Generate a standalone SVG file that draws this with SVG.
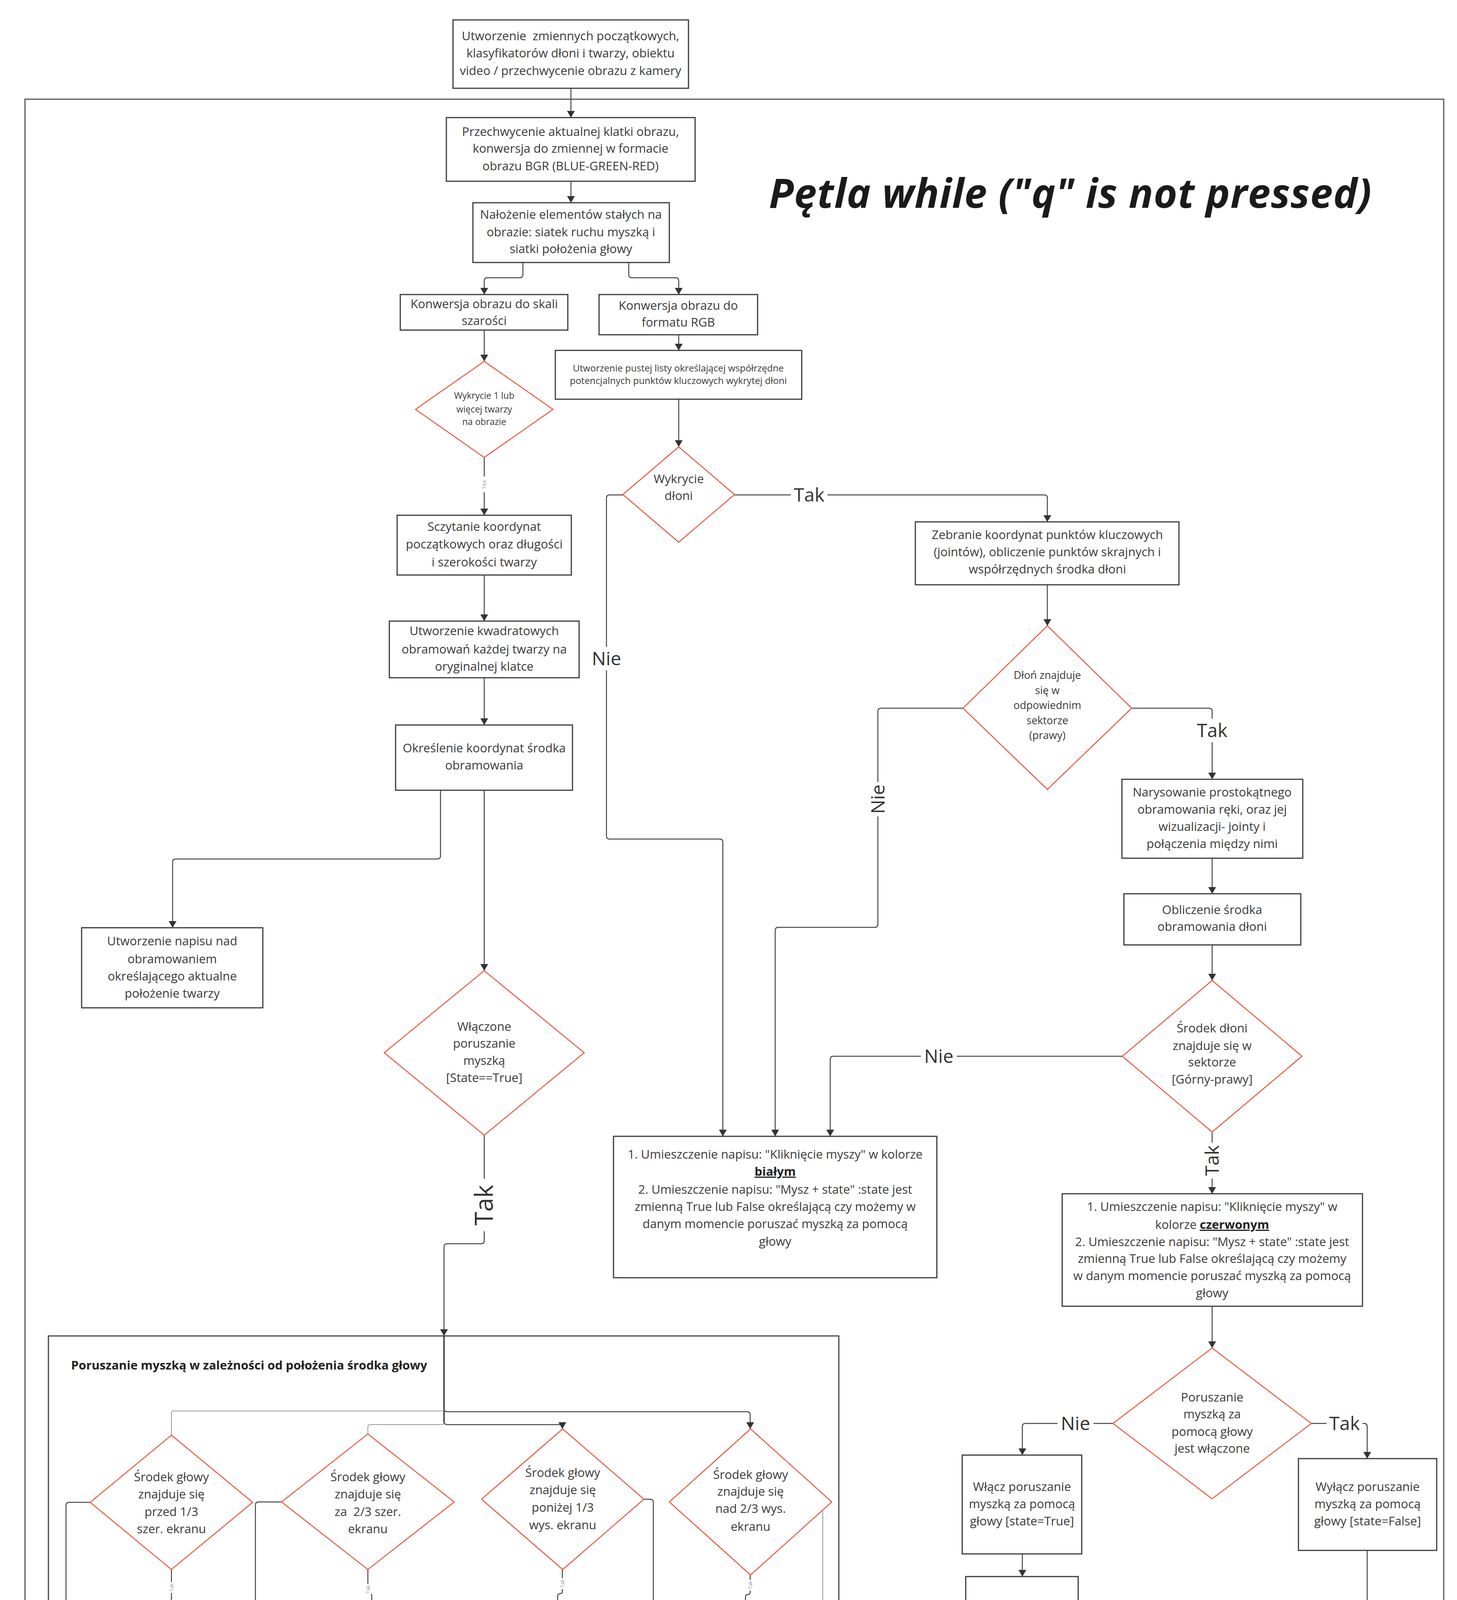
<svg xmlns="http://www.w3.org/2000/svg" width="3731" height="4646" viewBox="0 0 3731 4646">
<defs>
<marker id="ar" viewBox="0 0 17 20" refX="17" refY="10" markerWidth="17" markerHeight="20" markerUnits="userSpaceOnUse" orient="auto"><path d="M0,0 L17,10 L0,20 z" fill="#333"/></marker>
<style>
.box{fill:#fff;stroke:#3a3a3a;stroke-width:3}
.dia{fill:#fff;stroke:#e8553e;stroke-width:2.5}
.frame{fill:none;stroke:#555;stroke-width:3}
.t{font-family:"Open Sans","Noto Sans","DejaVu Sans",sans-serif;fill:#3a3a3a;text-anchor:middle;font-size:31px}
.s23{font-size:23px}
.s24{font-size:24px}
.s27{font-size:27px}
.big{font-size:48px}
.lbl{font-family:"Open Sans","Noto Sans","DejaVu Sans",sans-serif;fill:#333;text-anchor:middle;font-size:48px}
.tiny{font-family:"Open Sans","Noto Sans","DejaVu Sans",sans-serif;fill:#999;text-anchor:middle;font-size:13px}
.b{font-weight:bold;fill:#222;text-decoration:underline}
.c{fill:none;stroke:#444;stroke-width:2.5}
.ck{fill:none;stroke:#333;stroke-width:3.5}
.cg{fill:none;stroke:#9a9a9a;stroke-width:2}
.bg{fill:#fff}
</style>
</defs>
<rect width="3731" height="4646" fill="#fff"/>

<g id="loop-frame">
<rect class="frame" x="64" y="254" width="3633" height="4372"/>
<text x="1969" y="532" font-family="'Open Sans','Noto Sans','DejaVu Sans',sans-serif" font-size="104" font-weight="bold" font-style="italic" fill="#1a1a1a" textLength="1543">Pętla while ("q" is not pressed)</text>
</g>

<g id="subblock">
<rect class="frame" x="124" y="3420" width="2024" height="1112" style="stroke:#444"/>
<text x="182" y="3506" font-family="'Open Sans','Noto Sans','DejaVu Sans',sans-serif" font-size="31" font-weight="bold" fill="#222">Poruszanie myszką w zależności od położenia środka głowy</text>
</g>

<g id="connectors">
<path class="c" marker-end="url(#ar)" d="M1462 226 V301"/>
<path class="c" marker-end="url(#ar)" d="M1462 464 V519"/>
<path class="c" marker-end="url(#ar)" d="M1339 672 V703 Q1339 711 1331 711 H1248 Q1240 711 1240 719 V754"/>
<path class="c" marker-end="url(#ar)" d="M1610 672 V703 Q1610 711 1618 711 H1730 Q1738 711 1738 719 V754"/>
<path class="c" marker-end="url(#ar)" d="M1240 845 V925"/>
<path class="c" marker-end="url(#ar)" d="M1738 857 V897"/>
<path class="c" marker-end="url(#ar)" d="M1738 1022 V1144"/>
<path class="c" marker-end="url(#ar)" d="M1240 1171 V1319"/>
<path class="c" marker-end="url(#ar)" d="M1240 1472 V1590"/>
<path class="c" marker-end="url(#ar)" d="M1240 1735 V1856"/>
<path class="c" marker-end="url(#ar)" d="M1128 2023 V2191 Q1128 2199 1120 2199 H450 Q442 2199 442 2207 V2375"/>
<path class="c" marker-end="url(#ar)" d="M1240 2023 V2485"/>
<path class="c" marker-end="url(#ar)" d="M1240 2906 V3176 Q1240 3184 1232 3184 H1145 Q1137 3184 1137 3192 V3420"/>
<path class="c" marker-end="url(#ar)" d="M1881 1267 H2674 Q2682 1267 2682 1275 V1336"/>
<path class="c" marker-end="url(#ar)" d="M1595 1267 H1561 Q1553 1267 1553 1275 V2140 Q1553 2148 1561 2148 H1843 Q1851 2148 1851 2156 V2909"/>
<path class="c" marker-end="url(#ar)" d="M2682 1497 V1602"/>
<path class="c" marker-end="url(#ar)" d="M2466 1813 H2256 Q2248 1813 2248 1821 V2366 Q2248 2374 2240 2374 H1993 Q1985 2374 1985 2382 V2909"/>
<path class="c" marker-end="url(#ar)" d="M2898 1813 H3096 Q3104 1813 3104 1821 V1995"/>
<path class="c" marker-end="url(#ar)" d="M3104 2197 V2288"/>
<path class="c" marker-end="url(#ar)" d="M3104 2419 V2510"/>
<path class="c" marker-end="url(#ar)" d="M2874 2704 H2134 Q2126 2704 2126 2712 V2909"/>
<path class="c" marker-end="url(#ar)" d="M3104 2898 V3056"/>
<path class="c" marker-end="url(#ar)" d="M3104 3344 V3451"/>
<path class="c" marker-end="url(#ar)" d="M2850 3644 H2626 Q2618 3644 2618 3652 V3725"/>
<path class="c" marker-end="url(#ar)" d="M3358 3644 H3493 Q3501 3644 3501 3652 V3734"/>
<path class="c" marker-end="url(#ar)" d="M2618 3978 V4036"/>
<path class="c" marker-end="url(#ar)" d="M2618 4270 V4306 Q2618 4314 2626 4314 H2934 Q2942 4314 2942 4322 V4355"/>
<path class="c" marker-end="url(#ar)" d="M3501 3969 V4306 Q3501 4314 3493 4314 H3050 Q3042 4314 3042 4322 V4355"/>
<path class="ck" d="M1137 3420 V3641"/>
<path class="cg" d="M1137 3606 Q1137 3612 1131 3612 H445 Q439 3612 439 3618 V3674"/>
<path class="c" marker-end="url(#ar)" d="M1137 3606 Q1137 3614 1145 3614 H1913 Q1921 3614 1921 3622 V3658"/>
<path class="cg" d="M1137 3641 Q1137 3647 1131 3647 H948 Q942 3647 942 3653 V3671"/>
<path class="c" marker-end="url(#ar)" d="M1137 3639 Q1137 3647 1145 3647 H1432 Q1440 3647 1440 3655 V3658"/>
<path class="c" marker-end="url(#ar)" d="M439 4018 V4118"/>
<path class="c" marker-end="url(#ar)" d="M942 4018 V4074 Q942 4080 948 4080 H946 Q952 4080 952 4086 V4118"/>
<path class="c" marker-end="url(#ar)" d="M1440 4018 V4074 Q1440 4080 1434 4080 Q1428 4080 1428 4086 V4118"/>
<path class="c" marker-end="url(#ar)" d="M1921 4032 V4076 Q1921 4082 1915 4082 Q1909 4082 1909 4088 V4113"/>
<path class="c" d="M231 3846 H177 Q169 3846 169 3854 V4412 Q169 4420 177 4420 H1665 Q1673 4420 1673 4412 V3846 Q1673 3838 1665 3838 H1649"/>
<path class="c" d="M439 4349 V4412 Q439 4420 447 4420"/>
<path class="c" d="M721 3845 H662 Q654 3845 654 3853 V4412 Q654 4420 662 4420"/>
<path class="c" d="M952 4331 V4420"/>
<path class="c" d="M1428 4324 V4412 Q1428 4420 1420 4420"/>
<path class="c" d="M1909 4324 V4412 Q1909 4420 1901 4420 H1673"/>
<path class="cg" d="M2130 3845 H2099 Q2107 3845 2107 3853 V4412 Q2107 4420 2099 4420 H1909"/>
<path class="ck" marker-end="url(#ar)" d="M1137 4420 V4532"/>
</g>

<g id="connector-labels">
<rect class="bg" x="1228" y="1220" width="24" height="40"/>
<text class="tiny" transform="translate(1245 1240) rotate(-90)">TAK</text>
<rect class="bg" x="1205" y="3018" width="70" height="134"/>
<text class="lbl" style="font-size:64px" transform="translate(1262 3085) rotate(-90)">Tak</text>
<rect class="bg" x="2025" y="1240" width="94" height="54"/>
<text class="lbl" x="2072" y="1284">Tak</text>
<rect class="bg" x="1511" y="1656" width="84" height="60"/>
<text class="lbl" x="1553" y="1703">Nie</text>
<rect class="bg" x="2218" y="2002" width="60" height="88"/>
<text class="lbl" transform="translate(2265 2046) rotate(-90)">Nie</text>
<rect class="bg" x="3060" y="1840" width="88" height="60"/>
<text class="lbl" x="3104" y="1887">Tak</text>
<rect class="bg" x="2358" y="2676" width="92" height="56"/>
<text class="lbl" x="2404" y="2721">Nie</text>
<rect class="bg" x="3076" y="2925" width="56" height="92"/>
<text class="lbl" transform="translate(3121 2971) rotate(-90)">Tak</text>
<rect class="bg" x="2708" y="3616" width="92" height="56"/>
<text class="lbl" x="2754" y="3661">Nie</text>
<rect class="bg" x="3397" y="3616" width="92" height="56"/>
<text class="lbl" x="3443" y="3661">Tak</text>
<rect class="bg" x="431" y="4050" width="16" height="28"/>
<text class="tiny" transform="translate(444 4064) rotate(-90)">Tak</text>
<rect class="bg" x="934" y="4055" width="16" height="28"/>
<text class="tiny" transform="translate(947 4069) rotate(-90)">Tak</text>
<rect class="bg" x="1432" y="4040" width="16" height="28"/>
<text class="tiny" transform="translate(1445 4054) rotate(-90)">Tak</text>
<rect class="bg" x="1913" y="4044" width="16" height="28"/>
<text class="tiny" transform="translate(1926 4058) rotate(-90)">Tak</text>
<rect class="bg" x="161" y="4117" width="16" height="28"/>
<text class="tiny" transform="translate(174 4131) rotate(-90)">Nie</text>
<rect class="bg" x="646" y="4122" width="16" height="28"/>
<text class="tiny" transform="translate(659 4136) rotate(-90)">Nie</text>
<rect class="bg" x="1665" y="4149" width="16" height="28"/>
<text class="tiny" transform="translate(1678 4163) rotate(-90)">Nie</text>
<rect class="bg" x="2099" y="4101" width="16" height="28"/>
<text class="tiny" transform="translate(2112 4115) rotate(-90)">Nie</text>
</g>

<g id="n-init">
<rect class="box" x="1160" y="51" width="603" height="175"/>
<text class="t"><tspan x="1461" y="103" xml:space="preserve">Utworzenie  zmiennych początkowych,</tspan><tspan x="1461" y="147">klasyfikatorów dłoni i twarzy, obiektu</tspan><tspan x="1461" y="192">video / przechwycenie obrazu z kamery</tspan></text>
</g>
<g id="n-capture">
<rect class="box" x="1143" y="301" width="637" height="163"/>
<text class="t"><tspan x="1461" y="348">Przechwycenie aktualnej klatki obrazu,</tspan><tspan x="1461" y="391">konwersja do zmiennej w formacie</tspan><tspan x="1461" y="436">obrazu BGR (BLUE-GREEN-RED)</tspan></text>
</g>
<g id="n-overlay">
<rect class="box" x="1211" y="519" width="503" height="153"/>
<text class="t"><tspan x="1462" y="560">Nałożenie elementów stałych na</tspan><tspan x="1462" y="605">obrazie: siatek ruchu myszką i</tspan><tspan x="1462" y="648">siatki położenia głowy</tspan></text>
</g>
<g id="n-gray">
<rect class="box" x="1025" y="754" width="429" height="91"/>
<text class="t"><tspan x="1240" y="789">Konwersja obrazu do skali</tspan><tspan x="1240" y="832">szarości</tspan></text>
</g>
<g id="n-rgb">
<rect class="box" x="1534" y="754" width="406" height="103"/>
<text class="t"><tspan x="1737" y="793">Konwersja obrazu do</tspan><tspan x="1737" y="836">formatu RGB</tspan></text>
</g>
<g id="n-list">
<rect class="box" x="1422" y="897" width="631" height="125"/>
<text class="t s24"><tspan x="1737" y="951">Utworzenie pustej listy określającej współrzędne</tspan><tspan x="1737" y="983">potencjalnych punktów kluczowych wykrytej dłoni</tspan></text>
</g>
<g id="d-face">
<polygon class="dia" points="1240,925 1416,1048 1240,1171 1064,1048"/>
<text class="t s23"><tspan x="1240" y="1021">Wykrycie 1 lub</tspan><tspan x="1240" y="1056">więcej twarzy</tspan><tspan x="1240" y="1088">na obrazie</tspan></text>
</g>
<g id="n-read">
<rect class="box" x="1017" y="1319" width="446" height="153"/>
<text class="t"><tspan x="1240" y="1359">Sczytanie koordynat</tspan><tspan x="1240" y="1404">początkowych oraz długości</tspan><tspan x="1240" y="1450">i szerokości twarzy</tspan></text>
</g>
<g id="n-frames">
<rect class="box" x="997" y="1590" width="486" height="145"/>
<text class="t"><tspan x="1240" y="1626">Utworzenie kwadratowych</tspan><tspan x="1240" y="1673">obramowań każdej twarzy na</tspan><tspan x="1240" y="1717">oryginalnej klatce</tspan></text>
</g>
<g id="n-center">
<rect class="box" x="1013" y="1856" width="453" height="167"/>
<text class="t"><tspan x="1240" y="1926">Określenie koordynat środka</tspan><tspan x="1240" y="1970">obramowania</tspan></text>
</g>
<g id="n-caption">
<rect class="box" x="209" y="2375" width="464" height="205"/>
<text class="t"><tspan x="441" y="2420">Utworzenie napisu nad</tspan><tspan x="441" y="2466">obramowaniem</tspan><tspan x="441" y="2510">określającego aktualne</tspan><tspan x="441" y="2554">położenie twarzy</tspan></text>
</g>
<g id="d-mouse">
<polygon class="dia" points="1240,2485 1496,2695 1240,2906 984,2695"/>
<text class="t"><tspan x="1240" y="2639">Włączone</tspan><tspan x="1240" y="2682">poruszanie</tspan><tspan x="1240" y="2726">myszką</tspan><tspan x="1240" y="2770">[State==True]</tspan></text>
</g>
<g id="d-hand">
<polygon class="dia" points="1738,1144 1881,1266 1738,1388 1595,1266"/>
<text class="t"><tspan x="1738" y="1237">Wykrycie</tspan><tspan x="1738" y="1280">dłoni</tspan></text>
</g>
<g id="n-joints">
<rect class="box" x="2344" y="1336" width="675" height="161"/>
<text class="t"><tspan x="2682" y="1380">Zebranie koordynat punktów kluczowych</tspan><tspan x="2682" y="1424">(jointów), obliczenie punktów skrajnych i</tspan><tspan x="2682" y="1468">współrzędnych środka dłoni</tspan></text>
</g>
<g id="d-sector">
<polygon class="dia" points="2682,1602 2898,1813 2682,2021 2466,1813"/>
<text class="t s27"><tspan x="2682" y="1738">Dłoń znajduje</tspan><tspan x="2682" y="1777">się w</tspan><tspan x="2682" y="1815">odpowiednim</tspan><tspan x="2682" y="1854">sektorze</tspan><tspan x="2682" y="1892">(prawy)</tspan></text>
</g>
<g id="n-draw">
<rect class="box" x="2873" y="1995" width="463" height="202"/>
<text class="t"><tspan x="3104" y="2039">Narysowanie prostokątnego</tspan><tspan x="3104" y="2083">obramowania ręki, oraz jej</tspan><tspan x="3104" y="2127">wizualizacji- jointy i</tspan><tspan x="3104" y="2171">połączenia między nimi</tspan></text>
</g>
<g id="n-handcenter">
<rect class="box" x="2878" y="2288" width="453" height="131"/>
<text class="t"><tspan x="3104" y="2340">Obliczenie środka</tspan><tspan x="3104" y="2383">obramowania dłoni</tspan></text>
</g>
<g id="d-upper">
<polygon class="dia" points="3104,2510 3334,2704 3104,2898 2874,2704"/>
<text class="t"><tspan x="3104" y="2643">Środek dłoni</tspan><tspan x="3104" y="2688">znajduje się w</tspan><tspan x="3104" y="2730">sektorze</tspan><tspan x="3104" y="2774">[Górny-prawy]</tspan></text>
</g>
<g id="n-white">
<rect class="box" x="1571" y="2909" width="828" height="362"/>
<text class="t"><tspan x="1985" y="2966">1. Umieszczenie napisu: "Kliknięcie myszy" w kolorze</tspan><tspan x="1985" y="3010" class="b">białym</tspan><tspan x="1985" y="3056">2. Umieszczenie napisu: "Mysz + state" :state jest</tspan><tspan x="1985" y="3100">zmienną True lub False określającą czy możemy w</tspan><tspan x="1985" y="3144">danym momencie poruszać myszką za pomocą</tspan><tspan x="1985" y="3189">głowy</tspan></text>
</g>
<g id="n-red">
<rect class="box" x="2720" y="3056" width="769" height="288"/>
<text class="t"><tspan x="3104" y="3100">1. Umieszczenie napisu: "Kliknięcie myszy" w</tspan></text>
<text class="t"><tspan x="3104" y="3146">kolorze <tspan class="b">czerwonym</tspan></tspan></text>
<text class="t"><tspan x="3104" y="3190">2. Umieszczenie napisu: "Mysz + state" :state jest</tspan><tspan x="3104" y="3233">zmienną True lub False określającą czy możemy</tspan><tspan x="3104" y="3277">w danym momencie poruszać myszką za pomocą</tspan><tspan x="3104" y="3321">głowy</tspan></text>
</g>
<g id="d-enabled">
<polygon class="dia" points="3104,3451 3358,3644 3104,3837 2850,3644"/>
<text class="t"><tspan x="3104" y="3588">Poruszanie</tspan><tspan x="3104" y="3631">myszką za</tspan><tspan x="3104" y="3676">pomocą głowy</tspan><tspan x="3104" y="3719">jest włączone</tspan></text>
</g>
<g id="n-on">
<rect class="box" x="2464" y="3725" width="306" height="253"/>
<text class="t"><tspan x="2617" y="3817">Włącz poruszanie</tspan><tspan x="2617" y="3861">myszką za pomocą</tspan><tspan x="2617" y="3905">głowy [state=True]</tspan></text>
</g>
<g id="n-off">
<rect class="box" x="3325" y="3734" width="354" height="235"/>
<text class="t"><tspan x="3502" y="3817">Wyłącz poruszanie</tspan><tspan x="3502" y="3861">myszką za pomocą</tspan><tspan x="3502" y="3905">głowy [state=False]</tspan></text>
</g>
<g id="n-click">
<rect class="box" x="2473" y="4036" width="288" height="234"/>
<text class="t"><tspan x="2617" y="4139">Emuluj kliknięcie</tspan><tspan x="2617" y="4185">myszy</tspan></text>
</g>
<g id="n-lock">
<rect class="box" x="2722" y="4355" width="638" height="254"/>
<text class="t"><tspan x="3041" y="4448">Zablokuj możliwość zmiany STATE, do</tspan><tspan x="3041" y="4492">momentu opuszczenia strefy przez dłoń i</tspan><tspan x="3041" y="4536">jej ponownego pojawienia się</tspan></text>
</g>

<g id="d-left">
<polygon class="dia" points="439,3674 647,3846 439,4018 231,3846"/>
<text class="t"><tspan x="439" y="3792">Środek głowy</tspan><tspan x="439" y="3836">znajduje się</tspan><tspan x="439" y="3881">przed 1/3</tspan><tspan x="439" y="3925">szer. ekranu</tspan></text>
</g>
<g id="d-right">
<polygon class="dia" points="942,3671 1163,3845 942,4018 721,3845"/>
<text class="t"><tspan x="942" y="3792">Środek głowy</tspan><tspan x="942" y="3836">znajduje się</tspan><tspan x="942" y="3881" xml:space="preserve">za  2/3 szer.</tspan><tspan x="942" y="3925">ekranu</tspan></text>
</g>
<g id="d-down">
<polygon class="dia" points="1441,3658 1649,3838 1441,4018 1233,3838"/>
<text class="t"><tspan x="1441" y="3781">Środek głowy</tspan><tspan x="1441" y="3825">znajduje się</tspan><tspan x="1441" y="3870">poniżej 1/3</tspan><tspan x="1441" y="3915">wys. ekranu</tspan></text>
</g>
<g id="d-up">
<polygon class="dia" points="1922,3658 2130,3845 1922,4032 1714,3845"/>
<text class="t"><tspan x="1922" y="3786">Środek głowy</tspan><tspan x="1922" y="3829">znajduje się</tspan><tspan x="1922" y="3873">nad 2/3 wys.</tspan><tspan x="1922" y="3919">ekranu</tspan></text>
</g>
<g id="b-left">
<rect class="box" x="312" y="4118" width="252" height="231"/>
<text class="t big"><tspan x="438" y="4175">Porusz</tspan><tspan x="438" y="4240">mysz w</tspan><tspan x="438" y="4305">lewo</tspan></text>
</g>
<g id="b-right">
<rect class="box" x="826" y="4118" width="252" height="213"/>
<text class="t big"><tspan x="952" y="4173">Porusz</tspan><tspan x="952" y="4240">mysz w</tspan><tspan x="952" y="4303">prawo</tspan></text>
</g>
<g id="b-down">
<rect class="box" x="1317" y="4118" width="221" height="206"/>
<text class="t big"><tspan x="1428" y="4173">Porusz</tspan><tspan x="1428" y="4240">mysz w</tspan><tspan x="1428" y="4302">dół</tspan></text>
</g>
<g id="b-up">
<rect class="box" x="1799" y="4113" width="220" height="211"/>
<text class="t big"><tspan x="1909" y="4167">Porusz</tspan><tspan x="1909" y="4233">mysz w</tspan><tspan x="1909" y="4297">górę</tspan></text>
</g>
</svg>
